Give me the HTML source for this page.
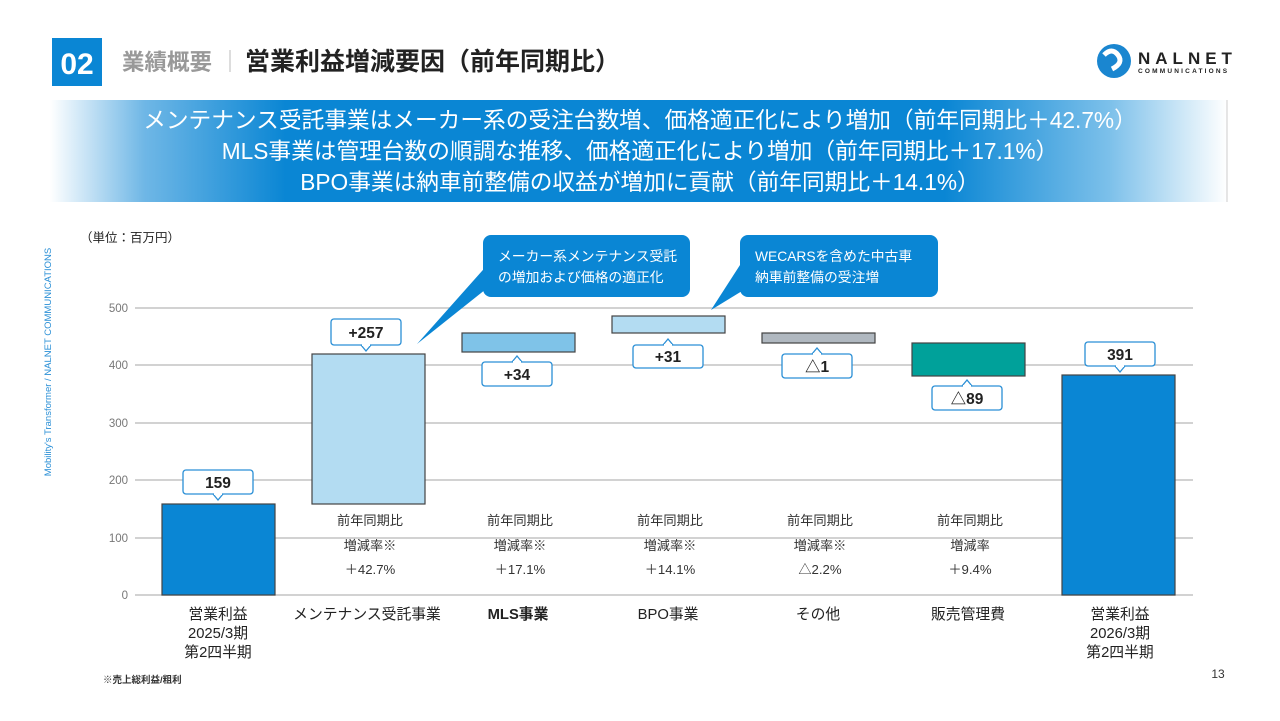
<!DOCTYPE html>
<html><head><meta charset="utf-8"><style>
html,body{margin:0;padding:0;background:#fff;}
svg{display:block;}
text{font-family:"Liberation Sans","Noto Sans CJK JP",sans-serif;}
</style></head><body>
<svg width="1280" height="721" viewBox="0 0 1280 721" xmlns="http://www.w3.org/2000/svg">
<defs>
<linearGradient id="bn" x1="0" x2="1" y1="0" y2="0">
<stop offset="0" stop-color="#ffffff"/>
<stop offset="0.08" stop-color="#6fb7e6"/>
<stop offset="0.2" stop-color="#0a86d4"/>
<stop offset="0.76" stop-color="#0a86d4"/>
<stop offset="0.9" stop-color="#7cc0ea"/>
<stop offset="1" stop-color="#ffffff"/>
</linearGradient>
</defs>
<rect x="52" y="38" width="50" height="48" fill="#0a86d4"/>
<text x="77" y="74" text-anchor="middle" font-size="30" font-weight="bold" fill="#fff">02</text>
<text x="122" y="70" font-size="22.5" font-weight="bold" fill="#999">業績概要</text>
<line x1="230" y1="50" x2="230" y2="72" stroke="#bbb" stroke-width="1"/>
<text x="245" y="70" font-size="25" font-weight="bold" fill="#222">営業利益増減要因（前年同期比）</text>
<circle cx="1114" cy="61" r="17" fill="#1a86d0"/>
<path d="M1104 55 q8 -8 14 0 q6 8 -6 14" stroke="#fff" stroke-width="5" fill="none"/>
<text x="1138" y="64" font-size="17" font-weight="bold" fill="#222" letter-spacing="5">NALNET</text>
<text x="1138" y="73" font-size="6.5" font-weight="bold" fill="#222" letter-spacing="2.2">COMMUNICATIONS</text>
<rect x="50" y="100" width="1177" height="102" fill="url(#bn)"/>
<line x1="1227" y1="100" x2="1227" y2="202" stroke="#ccc"/>
<text x="640" y="128" text-anchor="middle" font-size="22.7" fill="#fff">メンテナンス受託事業はメーカー系の受注台数増、価格適正化により増加（前年同期比＋42.7%）</text>
<text x="640" y="159" text-anchor="middle" font-size="22.7" fill="#fff">MLS事業は管理台数の順調な推移、価格適正化により増加（前年同期比＋17.1%）</text>
<text x="640" y="190" text-anchor="middle" font-size="22.7" fill="#fff">BPO事業は納車前整備の収益が増加に貢献（前年同期比＋14.1%）</text>
<text transform="translate(51,362) rotate(-90)" text-anchor="middle" font-size="9.5" fill="#2a8fd6">Mobility's Transformer / NALNET COMMUNICATIONS</text>
<text x="80" y="242" font-size="12.5" fill="#222">（単位：百万円）</text>
<g stroke="#c4c4c4" stroke-width="1.5">
<line x1="135" y1="308" x2="1193" y2="308"/>
<line x1="135" y1="365" x2="1193" y2="365"/>
<line x1="135" y1="423" x2="1193" y2="423"/>
<line x1="135" y1="480" x2="1193" y2="480"/>
<line x1="135" y1="538" x2="1193" y2="538"/>
<line x1="135" y1="595" x2="1193" y2="595"/>
</g>
<g font-size="11.5" fill="#777" text-anchor="end">
<text x="128" y="312">500</text><text x="128" y="369">400</text><text x="128" y="427">300</text>
<text x="128" y="484">200</text><text x="128" y="542">100</text><text x="128" y="599">0</text>
</g>
<g stroke="#444" stroke-width="1.2">
<rect x="162" y="504" width="113" height="91" fill="#0a86d4"/>
<rect x="312" y="354" width="113" height="150" fill="#b3dcf2"/>
<rect x="462" y="333" width="113" height="19" fill="#7fc3e8"/>
<rect x="612" y="316" width="113" height="17" fill="#b3dcf2"/>
<rect x="762" y="333" width="113" height="10" fill="#b0b8c0"/>
<rect x="912" y="343" width="113" height="33" fill="#00a19a"/>
<rect x="1062" y="375" width="113" height="220" fill="#0a86d4"/>
</g>
<g fill="#fff" stroke="#2a8fd6" stroke-width="1.3">
<rect x="183" y="470" width="70" height="24" rx="3"/><path d="M213 494 l5 6 l5 -6" />
<rect x="331" y="319" width="70" height="26" rx="3"/><path d="M361 345 l5 6 l5 -6"/>
<rect x="482" y="362" width="70" height="24" rx="3"/><path d="M512 362 l5 -6 l5 6"/>
<rect x="633" y="345" width="70" height="23" rx="3"/><path d="M663 345 l5 -6 l5 6"/>
<rect x="782" y="354" width="70" height="24" rx="3"/><path d="M812 354 l5 -6 l5 6"/>
<rect x="932" y="386" width="70" height="24" rx="3"/><path d="M962 386 l5 -6 l5 6"/>
<rect x="1085" y="342" width="70" height="24" rx="3"/><path d="M1115 366 l5 6 l5 -6"/>
</g>
<g fill="#fff"><rect x="214" y="492" width="8" height="3"/><rect x="362" y="343" width="8" height="3"/><rect x="513" y="361" width="8" height="3"/><rect x="664" y="344" width="8" height="3"/><rect x="813" y="353" width="8" height="3"/><rect x="963" y="385" width="8" height="3"/><rect x="1116" y="364" width="8" height="3"/></g>
<g font-size="15.5" font-weight="bold" fill="#222" text-anchor="middle">
<text x="218" y="488">159</text><text x="366" y="338">+257</text><text x="517" y="380">+34</text>
<text x="668" y="362">+31</text><text x="817" y="372">△1</text><text x="967" y="404">△89</text><text x="1120" y="360">391</text>
</g>
<g fill="#0a86d4">
<rect x="483" y="235" width="207" height="62" rx="8"/>
<polygon points="490,262 520,262 417,344"/>
<rect x="740" y="235" width="198" height="62" rx="8"/>
<polygon points="740,265 760,280 711,310"/>
</g>
<g font-size="13.8" fill="#fff">
<text x="498" y="261">メーカー系メンテナンス受託</text>
<text x="498" y="282">の増加および価格の適正化</text>
<text x="755" y="261">WECARSを含めた中古車</text>
<text x="755" y="282">納車前整備の受注増</text>
</g>
<g font-size="13.2" fill="#333" text-anchor="middle">
<text x="370" y="525">前年同期比</text><text x="370" y="550">増減率※</text><text x="370" y="574">＋42.7%</text>
<text x="520" y="525">前年同期比</text><text x="520" y="550">増減率※</text><text x="520" y="574">＋17.1%</text>
<text x="670" y="525">前年同期比</text><text x="670" y="550">増減率※</text><text x="670" y="574">＋14.1%</text>
<text x="820" y="525">前年同期比</text><text x="820" y="550">増減率※</text><text x="820" y="574">△2.2%</text>
<text x="970" y="525">前年同期比</text><text x="970" y="550">増減率</text><text x="970" y="574">＋9.4%</text>
</g>
<g font-size="14.8" fill="#222" text-anchor="middle">
<text x="218" y="619">営業利益</text><text x="218" y="638">2025/3期</text><text x="218" y="657">第2四半期</text>
<text x="367" y="619">メンテナンス受託事業</text>
<text x="518" y="619" font-weight="bold">MLS事業</text>
<text x="668" y="619">BPO事業</text>
<text x="818" y="619">その他</text>
<text x="968" y="619">販売管理費</text>
<text x="1120" y="619">営業利益</text><text x="1120" y="638">2026/3期</text><text x="1120" y="657">第2四半期</text>
</g>
<text x="103" y="683" font-size="9.5" font-weight="bold" fill="#333">※売上総利益/粗利</text>
<text x="1218" y="678" font-size="12" fill="#333" text-anchor="middle">13</text>
</svg>
</body></html>
